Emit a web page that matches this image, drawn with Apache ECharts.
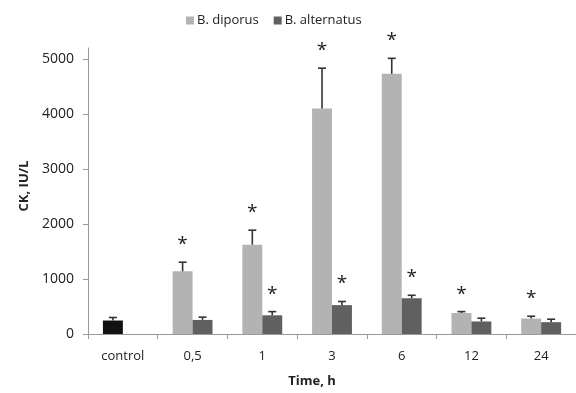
<!DOCTYPE html>
<html><head><meta charset="utf-8">
<script src="https://cdn.jsdelivr.net/npm/echarts@6/dist/echarts.min.js"></script>
<style>html,body{margin:0;padding:0;background:#fff}#c{width:576px;height:393px}</style>
</head><body><div id="c"></div>
<script>
const categories = ['control', '0,5', '1', '3', '6', '12', '24'];
const diporus = [245, 1140, 1625, 4100, 4730, 382, 281];
const diporusErr = [55, 165, 262, 733, 282, 25, 42];
const alternatus = [null, 256, 340, 525, 650, 228, 215];
const alternatusErr = [null, 50, 67, 66, 54, 59, 54];
const diporusStar = [false, true, true, true, true, true, true];
const alternatusStar = [false, false, true, true, true, false, false];
const yTicks = [0, 1000, 2000, 3000, 4000, 5000];

const FONT = 'Open Sans';
const BARW = 0.286;

function errSeries(vals, errs, stars, side) {
  const data = vals.map((v, i) => v == null ? null : [i, v, v + errs[i], stars[i] ? 1 : 0]).filter(d => d);
  return {
    type: 'custom', z: 5, silent: true,
    data: data,
    renderItem: function (params, api) {
      const i = api.value(0);
      const band = api.size([1, 0])[0];
      const off = side * band * BARW / 2;
      const base = api.coord([i, api.value(1)]);
      const top = api.coord([i, api.value(2)]);
      const x = base[0] + off;
      const children = [
        { type: 'line', shape: { x1: x, y1: base[1], x2: x, y2: top[1] }, style: { stroke: '#333', lineWidth: 1.6 } },
        { type: 'line', shape: { x1: x - 4, y1: top[1], x2: x + 4, y2: top[1] }, style: { stroke: '#333', lineWidth: 1.6 } }
      ];
      if (api.value(3)) {
        children.push({ type: 'text', style: { text: '*', x: x, y: top[1] - 27, align: 'center', verticalAlign: 'top', font: '19px "' + FONT + '"', fill: '#222' } });
      }
      return { type: 'group', children: children };
    }
  };
}

const chart = echarts.init(document.getElementById('c'), null, { renderer: 'canvas' });
chart.setOption({
  animation: false,
  textStyle: { fontFamily: FONT },
  legend: {
    top: 9, left: 181, itemWidth: 8, itemHeight: 8, itemGap: 15,
    icon: 'rect',
    textStyle: { fontSize: 13, color: '#222', fontFamily: FONT, padding: [0, 0, 0, -2] },
    data: ['B. diporus', 'B. alternatus']
  },
  grid: { left: 88, right: 0, top: 48, bottom: 55, containLabel: false },
  xAxis: {
    type: 'category', data: categories,
    axisLine: { lineStyle: { color: '#9a9a9a', width: 1 } },
    axisTick: { show: true, length: 5, lineStyle: { color: '#9a9a9a' } },
    axisLabel: { fontSize: 13, color: '#222', margin: 16, fontFamily: FONT },
    name: 'Time, h', nameLocation: 'middle', nameGap: 41,
    nameTextStyle: { fontSize: 13, fontWeight: 'bold', color: '#222', fontFamily: FONT, padding: [0, 40, 0, 0] }
  },
  yAxis: {
    type: 'value', min: 0, max: 5200, interval: 1000,
    axisLine: { show: true, lineStyle: { color: '#9a9a9a', width: 1 } },
    axisTick: { show: true, length: 5, inside: false, lineStyle: { color: '#9a9a9a' }, customValues: yTicks },
    axisLabel: { fontSize: 14, color: '#222', margin: 14, fontFamily: FONT, customValues: yTicks, formatter: v => String(v) },
    splitLine: { show: false },
    name: 'CK, IU/L', nameLocation: 'middle', nameGap: 55, nameRotate: 90,
    nameTextStyle: { fontSize: 13, fontWeight: 'bold', color: '#222', fontFamily: FONT, padding: [0, 0, 0, 10] }
  },
  series: [
    {
      name: 'B. diporus', type: 'bar', barWidth: (BARW * 100) + '%', barGap: '0%',
      itemStyle: { color: '#b3b3b3' },
      data: diporus.map((v, i) => i === 0 ? { value: v, itemStyle: { color: '#111' } } : v)
    },
    {
      name: 'B. alternatus', type: 'bar', barWidth: (BARW * 100) + '%', barGap: '0%',
      itemStyle: { color: '#606060' },
      data: alternatus
    },
    errSeries(diporus, diporusErr, diporusStar, -1),
    errSeries(alternatus, alternatusErr, alternatusStar, 1)
  ]
});
</script></body></html>
